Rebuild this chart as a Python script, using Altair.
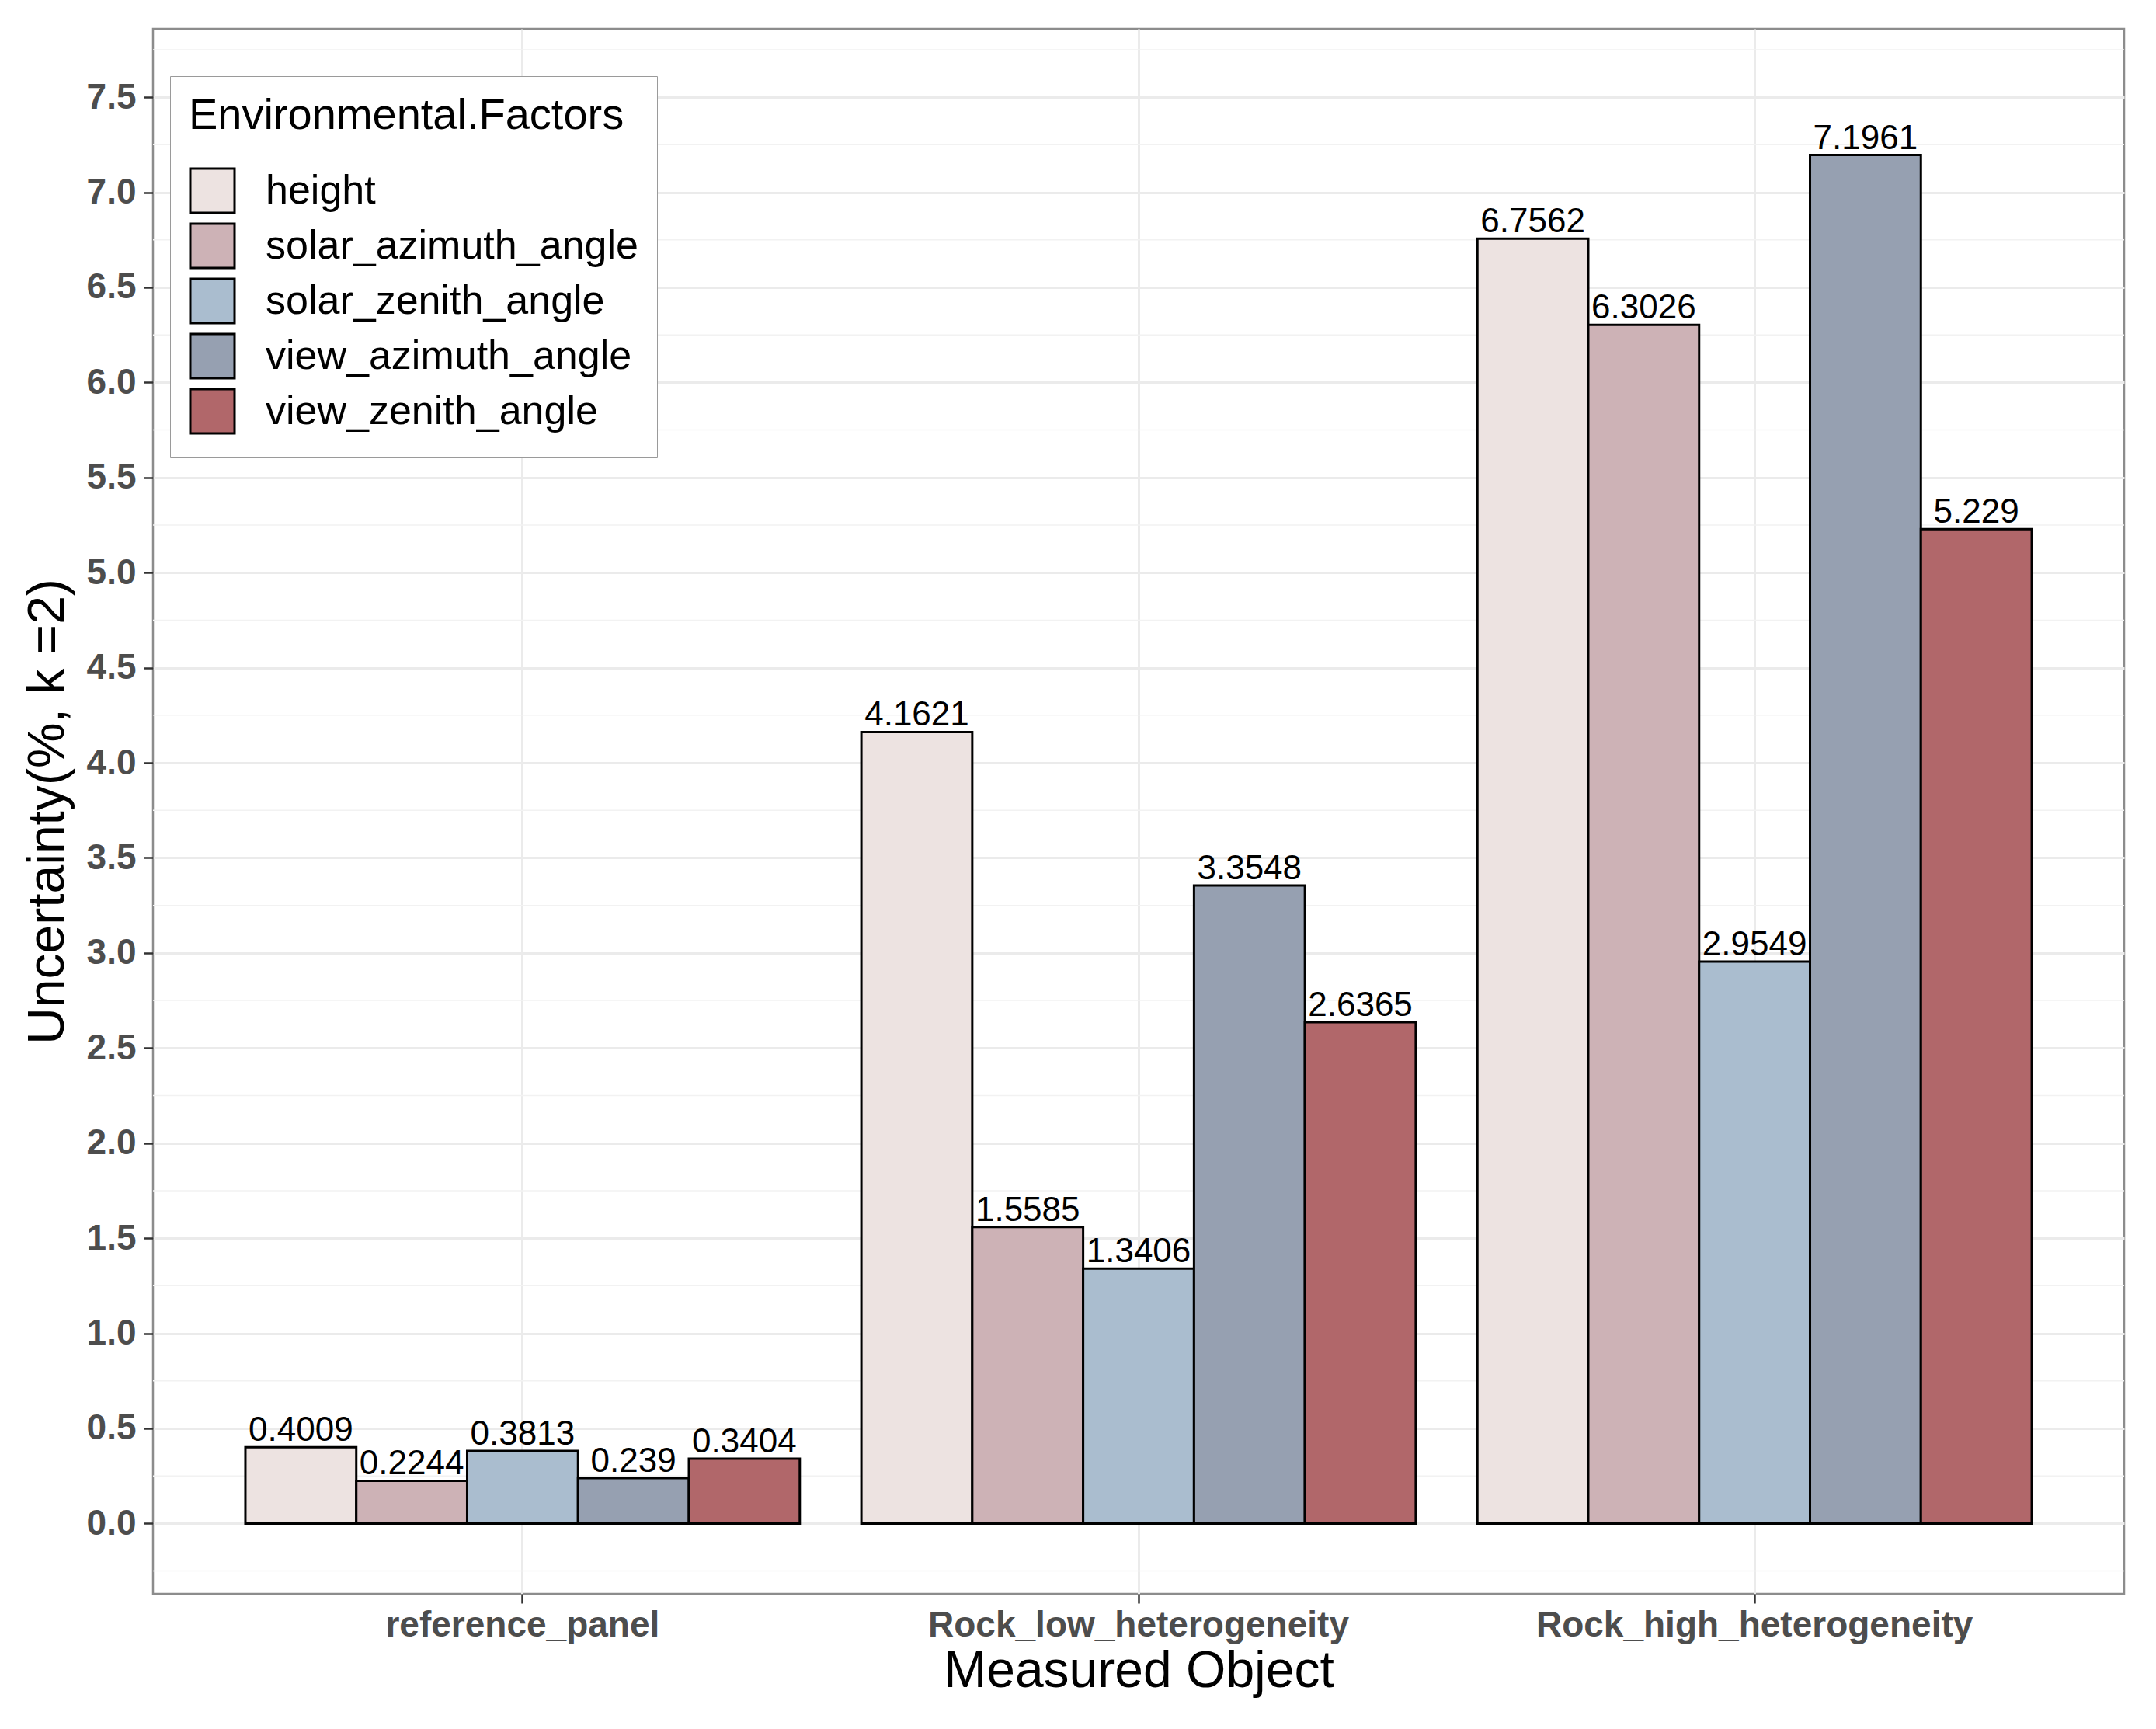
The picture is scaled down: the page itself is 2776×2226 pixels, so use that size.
import altair as alt
import pandas as pd

objects = ["reference_panel", "Rock_low_heterogeneity", "Rock_high_heterogeneity"]
factors = ["height", "solar_azimuth_angle", "solar_zenith_angle",
           "view_azimuth_angle", "view_zenith_angle"]
reference_panel = [0.4009, 0.2244, 0.3813, 0.239, 0.3404]
rock_low = [4.1621, 1.5585, 1.3406, 3.3548, 2.6365]
rock_high = [6.7562, 6.3026, 2.9549, 7.1961, 5.229]
colors = ["#EDE3E1", "#CDB2B6", "#AABDCF", "#96A0B1", "#B1676A"]
y_ticks = [0.0, 0.5, 1.0, 1.5, 2.0, 2.5, 3.0, 3.5, 4.0, 4.5, 5.0, 5.5, 6.0, 6.5, 7.0, 7.5]
minor_ticks = [-0.25, 0.25, 0.75, 1.25, 1.75, 2.25, 2.75, 3.25, 3.75, 4.25,
               4.75, 5.25, 5.75, 6.25, 6.75, 7.25, 7.75]

rows = []
for obj, vals in zip(objects, [reference_panel, rock_low, rock_high]):
    for f, v in zip(factors, vals):
        rows.append({"object": obj, "factor": f, "value": v, "label": str(v)})
df = pd.DataFrame(rows)
minor_df = pd.DataFrame({"minor": minor_ticks})

FONT = "Liberation Sans"
y_scale = alt.Scale(domain=[-0.37, 7.86], nice=False, zero=False)
y_axis = alt.Axis(title="Uncertainty(%, k =2)", values=y_ticks, format=".1f",
                  labelPadding=10, titlePadding=16, grid=True)
x_enc = alt.X("object:N", sort=objects,
              scale=alt.Scale(paddingInner=0.1, paddingOuter=0.15),
              axis=alt.Axis(title="Measured Object", labelAngle=0, labelPadding=6,
                            labelLimit=2000, titlePadding=4, grid=True))
xoff = alt.XOffset("factor:N", sort=factors,
                   scale=alt.Scale(paddingInner=0, paddingOuter=0))

minor = alt.Chart(minor_df).mark_rule(color="#F2F2F2", strokeWidth=1.5).encode(
    y=alt.Y("minor:Q", scale=y_scale, axis=y_axis)
)

bars = alt.Chart(df).mark_bar(stroke="black", strokeWidth=3, fillOpacity=1).encode(
    x=x_enc,
    xOffset=xoff,
    y=alt.Y("value:Q", scale=y_scale, axis=y_axis),
    color=alt.Color("factor:N", sort=factors,
                    scale=alt.Scale(domain=factors, range=colors),
                    legend=alt.Legend(title="Environmental.Factors", orient="none",
                                      legendX=22, legendY=61,
                                      fillColor="white", strokeColor="#9A9A9A",
                                      padding=24, symbolType="square",
                                      symbolSize=3250, symbolStrokeColor="black",
                                      symbolStrokeWidth=3, symbolOpacity=1,
                                      labelFont=FONT, labelFontSize=52,
                                      labelColor="black", labelLimit=1000,
                                      labelOffset=38, rowPadding=0,
                                      titleFont=FONT, titleFontSize=56,
                                      titleFontWeight="normal", titleColor="black",
                                      titlePadding=37, titleLimit=1000)),
)

text = alt.Chart(df).mark_text(font=FONT, fontSize=44, color="black",
                               baseline="alphabetic", dy=-8).encode(
    x=x_enc,
    xOffset=xoff,
    y=alt.Y("value:Q", scale=y_scale, axis=y_axis),
    text="label:N",
)

chart = alt.layer(minor, bars, text).properties(
    width=2538, height=2015,
    padding={"left": 20, "top": 29, "right": 18, "bottom": 14},
    background="white",
).configure_view(
    stroke="#8C8C8C", strokeWidth=2.5
).configure_axis(
    domain=False, gridColor="#EBEBEB", gridWidth=3,
    tickColor="#333333", tickSize=12, tickWidth=2.5,
    labelFont=FONT, labelFontSize=46, labelFontWeight="bold", labelColor="#4D4D4D",
    titleFont=FONT, titleFontSize=66, titleFontWeight="normal", titleColor="black",
)

chart.save("out.html", embed_options={"renderer": "svg", "actions": False})
